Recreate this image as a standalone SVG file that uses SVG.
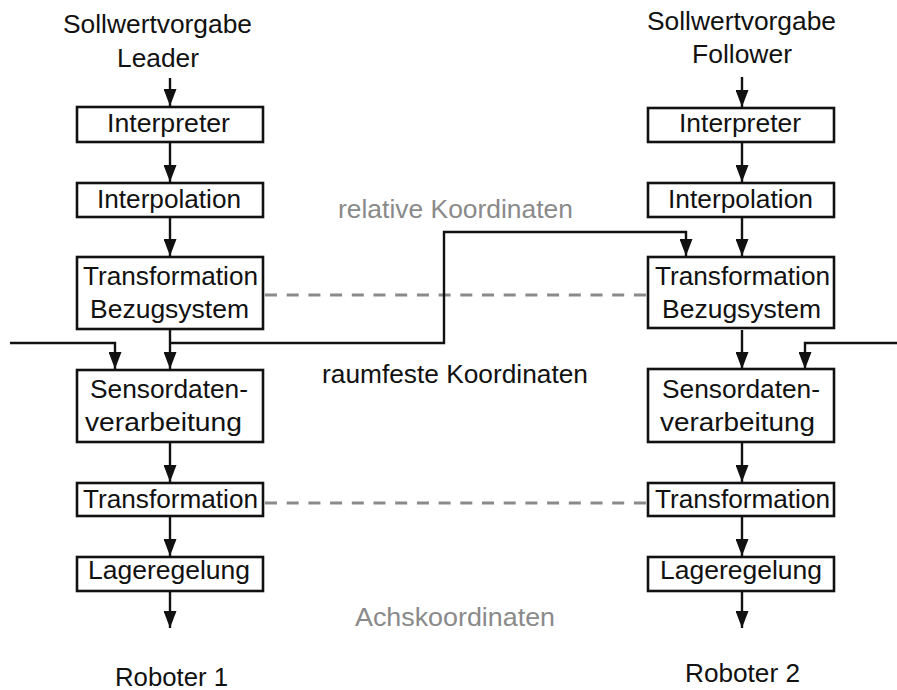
<svg xmlns="http://www.w3.org/2000/svg" width="897" height="690" viewBox="0 0 897 690">
  <style>
    text { font-family: "Liberation Sans", Arial, sans-serif; font-size: 25px; fill: #111; }
    .gray { fill: #8a8a8a; }
    .box { fill: #fff; stroke: #111; stroke-width: 2.6; }
    .wire { fill: none; stroke: #111; stroke-width: 2.4; }
    .dash { fill: none; stroke: #8a8a8a; stroke-width: 3; stroke-dasharray: 12 9.7; }
  </style>
  <defs>
    <marker id="arrow" markerUnits="userSpaceOnUse" markerWidth="17" markerHeight="13" refX="17" refY="6.5" orient="auto" viewBox="0 0 17 13">
      <path d="M0,0 L17,6.5 L0,13 Z" fill="#111"/>
    </marker>
  </defs>

  <!-- dashed correspondence lines between the two chains -->
  <g id="links">
    <line class="dash" x1="265" y1="295" x2="646" y2="295"/>
    <line class="dash" x1="265" y1="503" x2="646" y2="503"/>
  </g>

  <!-- signal flow -->
  <g id="connectors">
    <line class="wire" x1="170" y1="78" x2="170" y2="106" marker-end="url(#arrow)"/>
    <line class="wire" x1="170" y1="143" x2="170" y2="182" marker-end="url(#arrow)"/>
    <line class="wire" x1="170" y1="218" x2="170" y2="256" marker-end="url(#arrow)"/>
    <line class="wire" x1="170" y1="330" x2="170" y2="369" marker-end="url(#arrow)"/>
    <line class="wire" x1="170" y1="443" x2="170" y2="482" marker-end="url(#arrow)"/>
    <line class="wire" x1="170" y1="517" x2="170" y2="556" marker-end="url(#arrow)"/>
    <line class="wire" x1="170" y1="592" x2="170" y2="628" marker-end="url(#arrow)"/>

    <line class="wire" x1="742" y1="77" x2="742" y2="107" marker-end="url(#arrow)"/>
    <line class="wire" x1="742" y1="143" x2="742" y2="182" marker-end="url(#arrow)"/>
    <line class="wire" x1="742" y1="218" x2="742" y2="256" marker-end="url(#arrow)"/>
    <line class="wire" x1="742" y1="330" x2="742" y2="369" marker-end="url(#arrow)"/>
    <line class="wire" x1="742" y1="443" x2="742" y2="482" marker-end="url(#arrow)"/>
    <line class="wire" x1="742" y1="517" x2="742" y2="556" marker-end="url(#arrow)"/>
    <line class="wire" x1="742" y1="592" x2="742" y2="628" marker-end="url(#arrow)"/>

    <path class="wire" d="M10,343 H115 V369" marker-end="url(#arrow)"/>
    <path class="wire" d="M170,343 H444 V232 H686 V256" marker-end="url(#arrow)"/>
    <path class="wire" d="M897,343 H805 V369" marker-end="url(#arrow)"/>
  </g>

  <!-- leader chain -->
  <g id="leader-input">
    <text x="63" y="33" textLength="189" lengthAdjust="spacingAndGlyphs">Sollwertvorgabe</text>
    <text x="117" y="67" textLength="82" lengthAdjust="spacingAndGlyphs">Leader</text>
  </g>
  <g id="leader-interpreter">
    <rect class="box" x="77" y="107" width="186" height="35"/>
    <text x="107" y="132" textLength="123" lengthAdjust="spacingAndGlyphs">Interpreter</text>
  </g>
  <g id="leader-interpolation">
    <rect class="box" x="77" y="183" width="186" height="34"/>
    <text x="97" y="208" textLength="144" lengthAdjust="spacingAndGlyphs">Interpolation</text>
  </g>
  <g id="leader-bezug">
    <rect class="box" x="77" y="257" width="186" height="72"/>
    <text x="83" y="285" textLength="175" lengthAdjust="spacingAndGlyphs">Transformation</text>
    <text x="90" y="318" textLength="159" lengthAdjust="spacingAndGlyphs">Bezugsystem</text>
  </g>
  <g id="leader-sensor">
    <rect class="box" x="77" y="370" width="186" height="72"/>
    <text x="90" y="398" textLength="158" lengthAdjust="spacingAndGlyphs">Sensordaten-</text>
    <text x="85" y="431" textLength="157" lengthAdjust="spacingAndGlyphs">verarbeitung</text>
  </g>
  <g id="leader-transformation">
    <rect class="box" x="77" y="483" width="186" height="33"/>
    <text x="83" y="508" textLength="175" lengthAdjust="spacingAndGlyphs">Transformation</text>
  </g>
  <g id="leader-lageregelung">
    <rect class="box" x="77" y="557" width="186" height="34"/>
    <text x="88" y="579" textLength="162" lengthAdjust="spacingAndGlyphs">Lageregelung</text>
  </g>
  <g id="robot-1">
    <text x="115" y="686" textLength="113" lengthAdjust="spacingAndGlyphs">Roboter 1</text>
  </g>

  <!-- follower chain -->
  <g id="follower-input">
    <text x="647" y="30" textLength="189" lengthAdjust="spacingAndGlyphs">Sollwertvorgabe</text>
    <text x="692" y="63" textLength="100" lengthAdjust="spacingAndGlyphs">Follower</text>
  </g>
  <g id="follower-interpreter">
    <rect class="box" x="648" y="108" width="186" height="34"/>
    <text x="679" y="132" textLength="122" lengthAdjust="spacingAndGlyphs">Interpreter</text>
  </g>
  <g id="follower-interpolation">
    <rect class="box" x="648" y="183" width="186" height="34"/>
    <text x="668" y="208" textLength="145" lengthAdjust="spacingAndGlyphs">Interpolation</text>
  </g>
  <g id="follower-bezug">
    <rect class="box" x="648" y="257" width="186" height="71"/>
    <text x="655" y="285" textLength="175" lengthAdjust="spacingAndGlyphs">Transformation</text>
    <text x="662" y="318" textLength="159" lengthAdjust="spacingAndGlyphs">Bezugsystem</text>
  </g>
  <g id="follower-sensor">
    <rect class="box" x="648" y="369" width="186" height="73"/>
    <text x="662" y="398" textLength="158" lengthAdjust="spacingAndGlyphs">Sensordaten-</text>
    <text x="660" y="431" textLength="155" lengthAdjust="spacingAndGlyphs">verarbeitung</text>
  </g>
  <g id="follower-transformation">
    <rect class="box" x="648" y="483" width="186" height="33"/>
    <text x="655" y="508" textLength="175" lengthAdjust="spacingAndGlyphs">Transformation</text>
  </g>
  <g id="follower-lageregelung">
    <rect class="box" x="648" y="557" width="186" height="34"/>
    <text x="660" y="579" textLength="162" lengthAdjust="spacingAndGlyphs">Lageregelung</text>
  </g>
  <g id="robot-2">
    <text x="685" y="682" textLength="115" lengthAdjust="spacingAndGlyphs">Roboter 2</text>
  </g>

  <!-- coordinate level labels -->
  <g id="levels">
    <text class="gray" x="338" y="218" textLength="235" lengthAdjust="spacingAndGlyphs">relative Koordinaten</text>
    <text x="322" y="383" textLength="266" lengthAdjust="spacingAndGlyphs">raumfeste Koordinaten</text>
    <text class="gray" x="355" y="626" textLength="200" lengthAdjust="spacingAndGlyphs">Achskoordinaten</text>
  </g>
</svg>
